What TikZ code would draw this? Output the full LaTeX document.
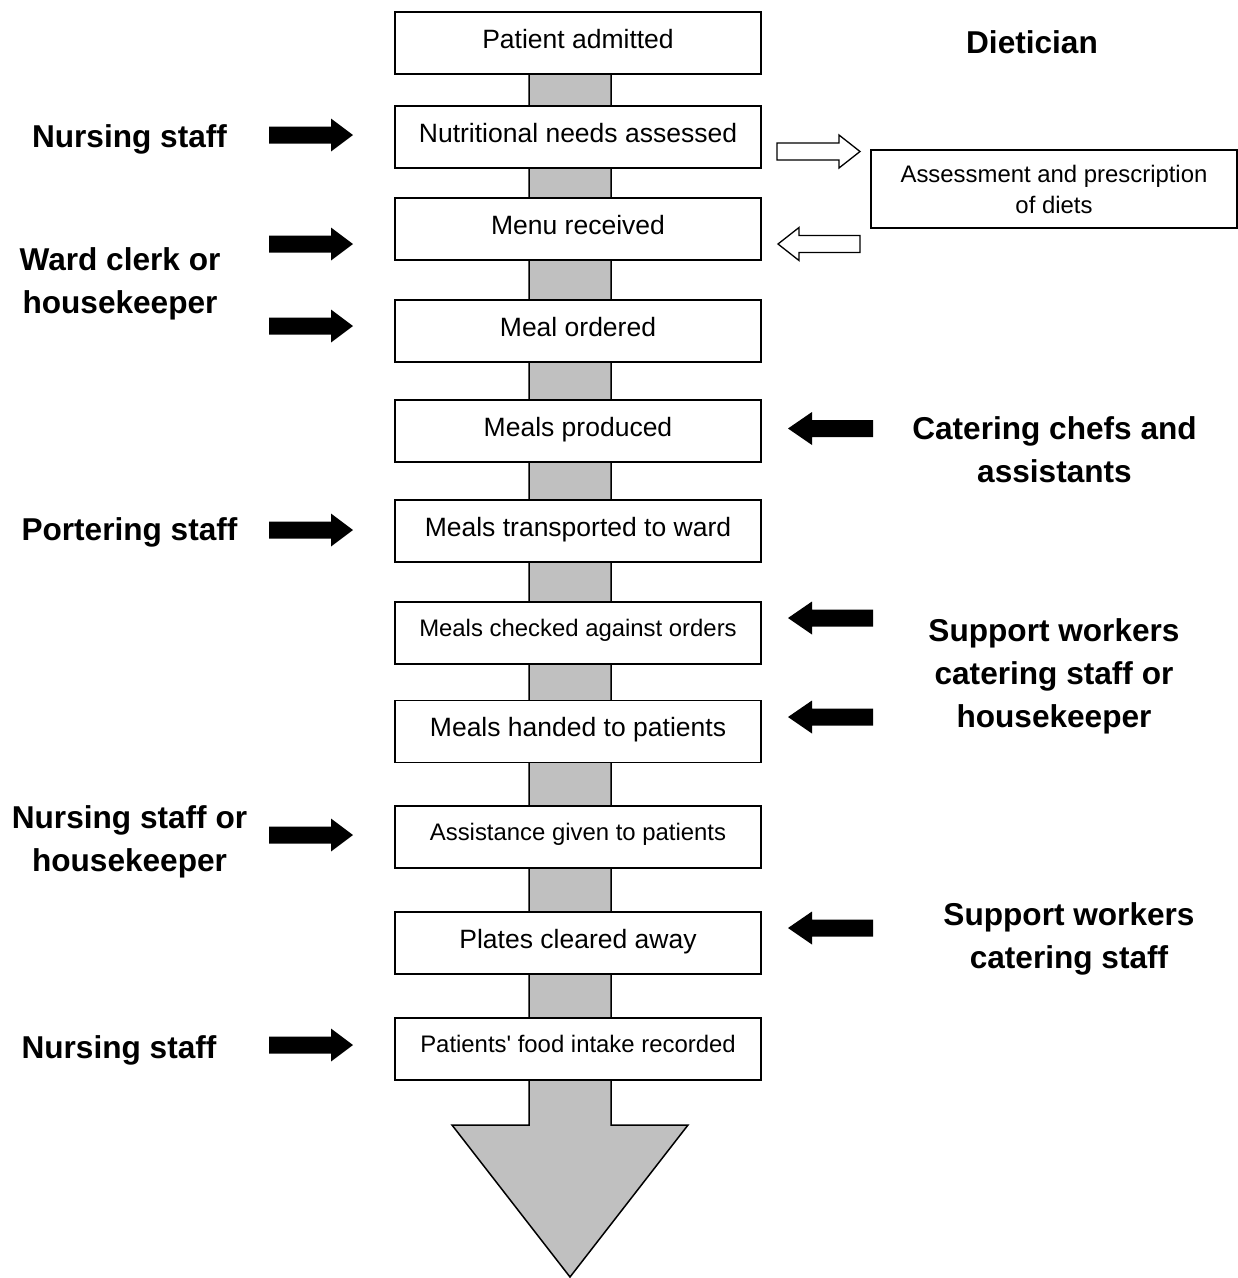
\documentclass[tikz,border=0pt]{standalone}
\usepackage{fontspec}
\setmainfont{Liberation Sans}
\definecolor{flowgray}{RGB}{192,192,192}
% block arrow: tail x, head-base x, tip x, centre y, style
\newcommand\blockarrow[5]{%
  \path[#5] (#1,#4-8.5) -- (#2,#4-8.5) -- (#2,#4-16.5) -- (#3,#4)
    -- (#2,#4+16.5) -- (#2,#4+8.5) -- (#1,#4+8.5) -- cycle;}
\begin{document}
\begin{tikzpicture}[x=1pt,y=-1pt,
  stepbox/.style={draw=black, line width=1.5pt, fill=white,
    minimum width=366pt, minimum height=62pt, inner sep=0pt,
    text height=10pt, text depth=0pt,
    font=\fontsize{26.5}{31}\selectfont},
  smallbox/.style={stepbox, text height=6pt,
    font=\fontsize{23.9}{31}\selectfont},
  role/.style={font=\fontsize{31.6}{43}\selectfont\bfseries,
    align=center, inner sep=0pt, anchor=base},
  flow/.style={fill=flowgray, draw=black, line width=1.5pt},
  solidarrow/.style={fill=black},
  hollowarrow/.style={fill=white, draw=black, line width=1.3pt},
]
\useasboundingbox (0,0) rectangle (1238,1278);

% the flow backbone
\draw[flow] (529,43) -- (529,1125) -- (452,1125) -- (570,1277)
  -- (688,1125) -- (611,1125) -- (611,43) -- cycle;

% process steps
\node[stepbox]  (b1)  at (578,43)    {Patient admitted};
\node[stepbox]  (b2)  at (578,137)   {Nutritional needs assessed};
\node[stepbox]  (b3)  at (578,229)   {Menu received};
\node[stepbox]  (b4)  at (578,331)   {Meal ordered};
\node[stepbox]  (b5)  at (578,431)   {Meals produced};
\node[stepbox]  (b6)  at (578,531)   {Meals transported to ward};
\node[smallbox] (b7)  at (578,633)   {Meals checked against orders};
\node[stepbox]  (b8)  at (578,731.5) {Meals handed to patients};
\node[smallbox] (b9)  at (578,837)   {Assistance given to patients};
\node[stepbox]  (b10) at (578,943)   {Plates cleared away};
\node[smallbox] (b11) at (578,1049)  {Patients\textquotesingle{} food intake recorded};

% dietician side box
\node[draw=black, line width=1.3pt, fill=white, minimum width=366pt,
  minimum height=78pt, inner sep=0pt, align=center,
  font=\fontsize{23.9}{31}\selectfont] (diet) at (1054,189)
  {Assessment and prescription\\of diets};
\blockarrow{777}{839}{860}{151.5}{hollowarrow}
\blockarrow{860}{799}{778}{244}{hollowarrow}

% staff roles
\node[role] (dietician) at (1032,53)   {Dietician};
\node[role] (nurse1)    at (129.5,147) {Nursing staff};
\node[role] (clerk)     at (120,313)   {Ward clerk or\\housekeeper};
\node[role] (porter)    at (129.5,540) {Portering staff};
\node[role] (nurse2)    at (129.5,871) {Nursing staff or\\housekeeper};
\node[role] (nurse3)    at (119,1058)  {Nursing staff};
\node[role] (chefs)     at (1054.5,482) {Catering chefs and\\assistants};
\node[role] (support1)  at (1054,727)  {Support workers\\catering staff or\\housekeeper};
\node[role] (support2)  at (1069,968)  {Support workers\\catering staff};

% role arrows
\blockarrow{269}{331}{353}{135}{solidarrow}
\blockarrow{269}{331}{353}{244}{solidarrow}
\blockarrow{269}{331}{353}{326}{solidarrow}
\blockarrow{269}{331}{353}{530}{solidarrow}
\blockarrow{269}{331}{353}{835}{solidarrow}
\blockarrow{269}{331}{353}{1045}{solidarrow}
\blockarrow{873}{812}{788}{428.5}{solidarrow}
\blockarrow{873}{812}{788}{618}{solidarrow}
\blockarrow{873}{812}{788}{717}{solidarrow}
\blockarrow{873}{812}{788}{928}{solidarrow}
\end{tikzpicture}
\end{document}
